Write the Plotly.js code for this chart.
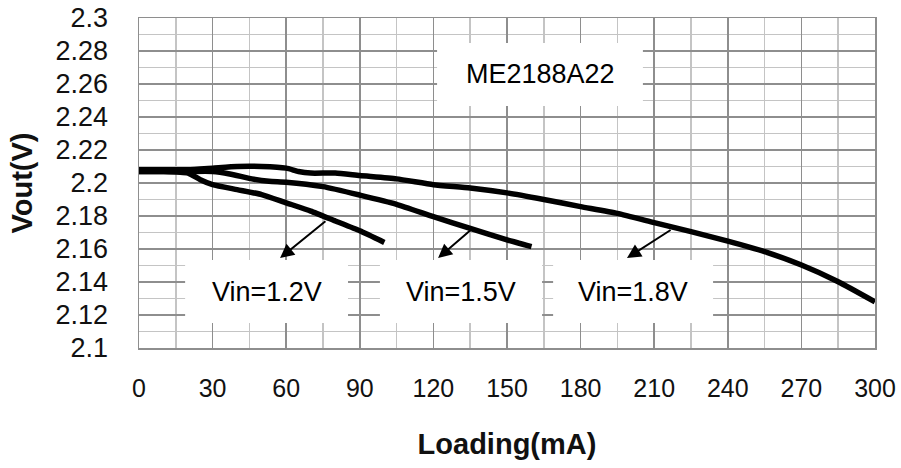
<!DOCTYPE html>
<html>
<head>
<meta charset="utf-8">
<script src="https://cdn.plot.ly/plotly-3.0.1.min.js"></script>
<style>html,body{margin:0;padding:0;background:#fff;}#chart{width:901px;height:468px;}</style>
</head>
<body>
<div id="chart"></div>
<script>
// Loading current (mA) and output voltage (V) for each input voltage
var load12 = [0, 10, 20, 25, 30, 40, 50, 60, 70, 80, 90, 100];
var vout12 = [2.207, 2.207, 2.206, 2.202, 2.199, 2.196, 2.193, 2.188, 2.183, 2.177, 2.171, 2.164];

var load15 = [0, 10, 20, 30, 37, 46, 53, 60, 75, 90, 105, 120, 135, 150, 160];
var vout15 = [2.207, 2.207, 2.207, 2.207, 2.2055, 2.2025, 2.201, 2.2005, 2.1978, 2.1927, 2.1871, 2.1796, 2.1725, 2.1655, 2.1614];

var load18 = [0, 10, 20, 30, 40, 50, 60, 65, 70, 80, 90, 105, 120, 135, 150, 165, 180, 195, 210, 225, 240, 255, 270, 285, 300];
var vout18 = [2.208, 2.208, 2.208, 2.209, 2.210, 2.210, 2.209, 2.207, 2.206, 2.206, 2.2045, 2.2025, 2.199, 2.197, 2.194, 2.190, 2.1857, 2.1816, 2.176, 2.1705, 2.1648, 2.1584, 2.1503, 2.1402, 2.128];

var xTickVals = [0, 30, 60, 90, 120, 150, 180, 210, 240, 270, 300];
var xTickText = ['0', '30', '60', '90', '120', '150', '180', '210', '240', '270', '300'];
var yTickVals = [2.1, 2.12, 2.14, 2.16, 2.18, 2.2, 2.22, 2.24, 2.26, 2.28, 2.3];
var yTickText = ['2.1', '2.12', '2.14', '2.16', '2.18', '2.2', '2.22', '2.24', '2.26', '2.28', '2.3'];

var seriesLabels = ['Vin=1.2V', 'Vin=1.5V', 'Vin=1.8V'];
var chipLabel = 'ME2188A22';

var FONT = 'Arial, "Liberation Sans", sans-serif';

function curve(x, y, name) {
  return {
    x: x, y: y, name: name, type: 'scatter', mode: 'lines',
    line: {color: '#000', width: 5.5, shape: 'spline', smoothing: 0.5},
    hoverinfo: 'skip'
  };
}

var data = [
  curve(load12, vout12, seriesLabels[0]),
  curve(load15, vout15, seriesLabels[1]),
  curve(load18, vout18, seriesLabels[2])
];

// white label boxes (x0,x1 in mA; y0,y1 in V)
var boxes = [
  [18.8, 85.2, 2.1152, 2.1533],
  [98.2, 164.3, 2.1152, 2.1533],
  [168.8, 234.0, 2.1152, 2.1533],
  [121.5, 205.4, 2.2467, 2.2848]
];
var shapes = boxes.map(function (b) {
  return {type: 'rect', xref: 'x', yref: 'y', x0: b[0], x1: b[1], y0: b[2], y1: b[3],
          fillcolor: '#fff', line: {width: 0}, layer: 'above'};
});

var annotations = [
  {x: 52, y: 2.1342, text: seriesLabels[0]},
  {x: 131.2, y: 2.1342, text: seriesLabels[1]},
  {x: 201.4, y: 2.1342, text: seriesLabels[2]},
  {x: 163.5, y: 2.2658, text: chipLabel}
].map(function (a) {
  return {x: a.x, y: a.y, xref: 'x', yref: 'y', text: a.text, showarrow: false,
          font: {family: FONT, size: 27, color: '#000'}};
});

var arrows = [
  [57.5, 2.1545, 76.6, 2.1776],
  [121.9, 2.1545, 135.7, 2.1721],
  [198.9, 2.1545, 217.3, 2.1721]
];
arrows.forEach(function (a) {
  annotations.push({x: a[0], y: a[1], ax: a[2], ay: a[3], xref: 'x', yref: 'y', axref: 'x', ayref: 'y',
    text: '', showarrow: true, arrowhead: 2, arrowsize: 1.4, arrowwidth: 2, arrowcolor: '#000', standoff: 0, startstandoff: 0});
});

var layout = {
  width: 901, height: 468,
  margin: {l: 139, r: 26, t: 18, b: 120, pad: 0},
  paper_bgcolor: '#fff', plot_bgcolor: '#fff',
  showlegend: false,
  font: {family: FONT, color: '#111'},
  xaxis: {
    range: [0, 300], tickmode: 'array', tickvals: xTickVals, ticktext: xTickText,
    showgrid: true, gridcolor: '#8e8e8e', gridwidth: 1.5,
    minor: {dtick: 15, tick0: 0, showgrid: true, gridcolor: '#c4c4c4', gridwidth: 1.5},
    showline: true, linecolor: '#8e8e8e', linewidth: 1.5, mirror: true,
    zeroline: false, ticks: '', ticklabelstandoff: 17,
    tickfont: {family: FONT, size: 25, color: '#111'},
    title: {text: '<b>Loading(mA)</b>', font: {family: FONT, size: 29, color: '#111'}, standoff: 33}
  },
  yaxis: {
    range: [2.1, 2.3], tickmode: 'array', tickvals: yTickVals, ticktext: yTickText,
    showgrid: true, gridcolor: '#8e8e8e', gridwidth: 1.5,
    minor: {dtick: 0.01, tick0: 2.1, showgrid: true, gridcolor: '#c4c4c4', gridwidth: 1.5},
    showline: true, linecolor: '#8e8e8e', linewidth: 1.5, mirror: true,
    zeroline: false, ticks: '', ticklabelstandoff: 24,
    tickfont: {family: FONT, size: 27, color: '#111'},
    title: {text: '<b>Vout(V)</b>', font: {family: FONT, size: 29, color: '#111'}, standoff: 14}
  },
  shapes: shapes,
  annotations: annotations
};

Plotly.newPlot('chart', data, layout, {displayModeBar: false, staticPlot: true});
</script>
</body>
</html>
